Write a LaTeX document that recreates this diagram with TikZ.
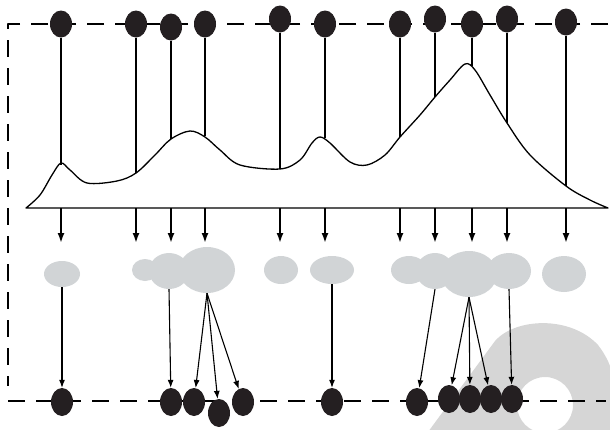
\documentclass[tikz,border=0pt]{standalone}
\usepackage{tikz}
\usetikzlibrary{arrows.meta}
\usetikzlibrary{shapes.geometric}
\definecolor{blobgray}{rgb}{0.82, 0.83, 0.84}
\definecolor{markgray}{rgb}{0.84, 0.84, 0.84}
\definecolor{dotblack}{rgb}{0.14, 0.12, 0.13}

\begin{document}
\begin{tikzpicture}[line join=round, x=1pt, y=-1pt,
  dot/.style={ellipse, fill=dotblack, minimum width=22pt, minimum height=27pt, inner sep=0pt},
  blob/.style={ellipse, fill=blobgray, inner sep=0pt},
  rim/.style={line width=1.3pt, dash pattern=on 17pt off 11pt},
  stem/.style={line width=1.6pt},
  drop/.style={line width=1.8pt, -{Latex[length=10pt, width=7pt]}},
  link/.style={line width=1.1pt, -{Latex[length=8pt, width=6pt]}}]
\useasboundingbox (0,0) rectangle (610,429);
% grey mark in the corner
\begin{scope}
\clip (0,0) rectangle (610,429);
\fill [markgray, even odd rule] (428,432) -- (495,341) .. controls (515,318) and (570,315) .. (598,345) .. controls (606,355) and (612,368) .. (614,380) -- (614,432) -- cycle (545,405) circle (28pt);
\end{scope}
% frame
\draw [rim] (608,24) -- (8,24) -- (8,386);
\draw [rim] (8,401) -- (606,401);
% profile
\draw [line width=1.3pt] plot[smooth, tension=0.55] coordinates {(26,208) (40,195) (52,175) (61,163) (70,170) (87,183) (117,181) (136,173) (155,155) (171,139) (190,131) (205,137) (220,150) (240,165) (280,169) (300,160) (312,143) (320,137) (330,143) (350,162) (367,165) (385,155) (400,137) (420,115) (435,97) (450,80) (465,64) (475,70) (490,95) (507,123) (530,155) (566,186) (590,200) (608,208)} -- cycle;
% peaks
\foreach \i/\x/\yt/\yc in {1/61/24/165, 2/136/24/173, 3/171/27/139, 4/205/24/136, 5/280/19/169, 6/325/24/138, 7/400/24/137, 8/435/19/97, 9/472/24/66, 10/507/19/123, 11/566/22/186}
{
  \node [dot] (t\i) at (\x,\yt) {};
  \coordinate (c\i) at (\x,\yc);
  \coordinate (a\i) at (\x,208);
  \coordinate (h\i) at (\x,243);
  \draw [stem] (t\i) -- (c\i);
  \draw [drop] (a\i) -- (h\i);
}
% grey spots
\node [blob, minimum width=36pt, minimum height=26pt] (g1) at (62,274) {};
\node [blob, minimum width=26pt, minimum height=22pt] (g2) at (145,270) {};
\node [blob, minimum width=40pt, minimum height=36pt] (g3) at (169,271) {};
\node [blob, minimum width=56pt, minimum height=46pt] (g4) at (207,270) {};
\node [blob, minimum width=34pt, minimum height=28pt] (g5) at (281,270) {};
\node [blob, minimum width=44pt, minimum height=28pt] (g6) at (332,270) {};
\node [blob, minimum width=36pt, minimum height=28pt] (g7) at (409,270) {};
\node [blob, minimum width=38pt, minimum height=36pt] (g8) at (435,271) {};
\node [blob, minimum width=56pt, minimum height=46pt] (g9) at (469,274) {};
\node [blob, minimum width=44pt, minimum height=36pt] (g10) at (509,271) {};
\node [blob, minimum width=44pt, minimum height=36pt] (g11) at (564,274) {};
% bottom row
\node [dot, minimum height=28pt] (b1) at (62,402) {};
\node [dot, minimum height=28pt] (b2) at (171,402) {};
\node [dot, minimum height=28pt] (b3) at (194,402) {};
\node [dot, minimum height=28pt] (b4) at (219,413) {};
\node [dot, minimum height=28pt] (b5) at (243,402) {};
\node [dot, minimum height=28pt] (b6) at (332,402) {};
\node [dot, minimum height=28pt] (b7) at (417,402) {};
\node [dot, minimum height=28pt] (b8) at (449,399) {};
\node [dot, minimum height=28pt] (b9) at (470,399) {};
\node [dot, minimum height=28pt] (b10) at (491,399) {};
\node [dot, minimum height=28pt] (b11) at (512,399) {};
\draw [link] (g1.south) -- (b1);
\draw [link] (g3.south) -- (b2);
\draw [link] (g4.south) -- (b3);
\draw [link] (g4.south) -- (b4);
\draw [link] (g4.south) -- (b5);
\draw [link] (g6.south) -- (b6);
\draw [link] (g8.south) -- (b7);
\draw [link] (g9.south) -- (b8);
\draw [link] (g9.south) -- (b9);
\draw [link] (g9.south) -- (b10);
\draw [link] (g10.south) -- (b11);
\end{tikzpicture}
\end{document}
